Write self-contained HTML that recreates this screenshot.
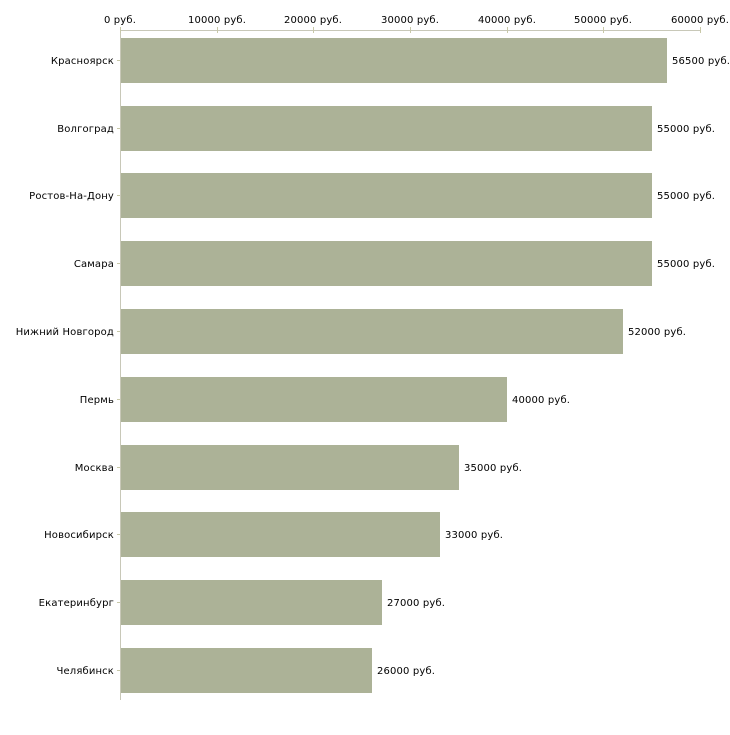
<!DOCTYPE html><html><head><meta charset="utf-8"><style>body{margin:0;background:#fff}</style></head><body>
<svg width="730" height="730" xmlns="http://www.w3.org/2000/svg" font-family="DejaVu Sans, sans-serif" font-size="10" letter-spacing="0.15" fill="#000">
<line x1="120" y1="30.5" x2="700" y2="30.5" stroke="#c8c8b8"/>
<line x1="120.5" y1="30" x2="120.5" y2="700" stroke="#c8c8b8"/>
<g stroke="#c8c8a8">
<line x1="120.5" y1="27" x2="120.5" y2="33"/><line x1="217.5" y1="27" x2="217.5" y2="33"/><line x1="313.5" y1="27" x2="313.5" y2="33"/><line x1="410.5" y1="27" x2="410.5" y2="33"/><line x1="507.5" y1="27" x2="507.5" y2="33"/><line x1="603.5" y1="27" x2="603.5" y2="33"/><line x1="700.5" y1="27" x2="700.5" y2="33"/>
<line x1="117" y1="60.5" x2="120" y2="60.5"/><line x1="117" y1="128.5" x2="120" y2="128.5"/><line x1="117" y1="195.5" x2="120" y2="195.5"/><line x1="117" y1="263.5" x2="120" y2="263.5"/><line x1="117" y1="331.5" x2="120" y2="331.5"/><line x1="117" y1="399.5" x2="120" y2="399.5"/><line x1="117" y1="467.5" x2="120" y2="467.5"/><line x1="117" y1="534.5" x2="120" y2="534.5"/><line x1="117" y1="602.5" x2="120" y2="602.5"/><line x1="117" y1="670.5" x2="120" y2="670.5"/>
</g>
<g text-anchor="middle">
<text x="120" y="23">0 руб.</text><text x="217" y="23">10000 руб.</text><text x="313" y="23">20000 руб.</text><text x="410" y="23">30000 руб.</text><text x="507" y="23">40000 руб.</text><text x="603" y="23">50000 руб.</text><text x="700" y="23">60000 руб.</text>
</g>
<g fill="#acb297">
<rect x="121" y="38" width="546" height="45"/>
<rect x="121" y="106" width="531" height="45"/>
<rect x="121" y="173" width="531" height="45"/>
<rect x="121" y="241" width="531" height="45"/>
<rect x="121" y="309" width="502" height="45"/>
<rect x="121" y="377" width="386" height="45"/>
<rect x="121" y="445" width="338" height="45"/>
<rect x="121" y="512" width="319" height="45"/>
<rect x="121" y="580" width="261" height="45"/>
<rect x="121" y="648" width="251" height="45"/>
</g>
<g text-anchor="end">
<text x="114" y="64">Красноярск</text><text x="114" y="132">Волгоград</text><text x="114" y="199">Ростов-На-Дону</text><text x="114" y="267">Самара</text><text x="114" y="335">Нижний Новгород</text><text x="114" y="403">Пермь</text><text x="114" y="471">Москва</text><text x="114" y="538">Новосибирск</text><text x="114" y="606">Екатеринбург</text><text x="114" y="674">Челябинск</text>
</g>
<g>
<text x="672" y="64">56500 руб.</text><text x="657" y="132">55000 руб.</text><text x="657" y="199">55000 руб.</text><text x="657" y="267">55000 руб.</text><text x="628" y="335">52000 руб.</text><text x="512" y="403">40000 руб.</text><text x="464" y="471">35000 руб.</text><text x="445" y="538">33000 руб.</text><text x="387" y="606">27000 руб.</text><text x="377" y="674">26000 руб.</text>
</g>
</svg></body></html>
